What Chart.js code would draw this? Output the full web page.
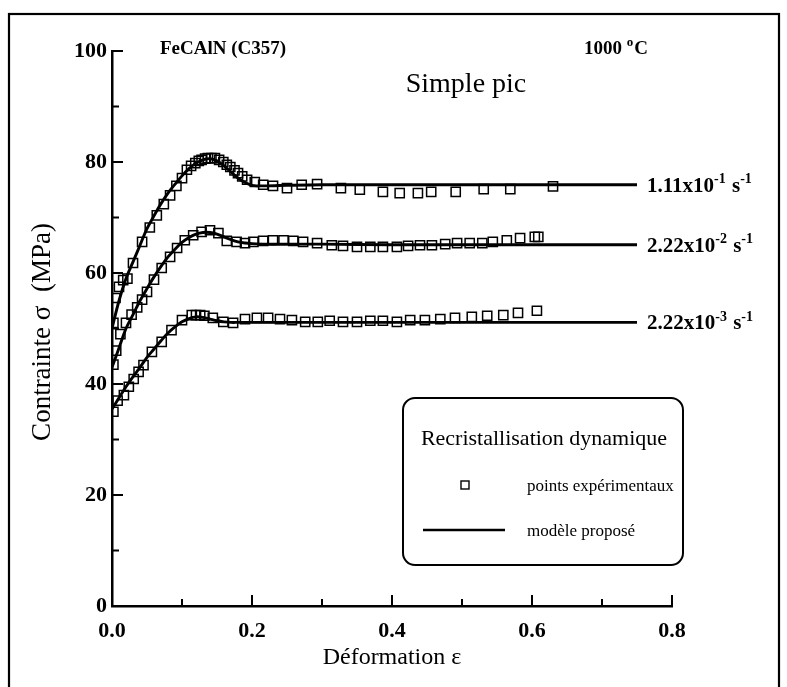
<!DOCTYPE html>
<html>
<head>
<meta charset="utf-8">
<script src="https://cdn.jsdelivr.net/npm/chart.js@4.4.1/dist/chart.umd.min.js"></script>
<style>
  html, body { margin: 0; padding: 0; background: #fff; }
  #wrap { width: 787px; height: 687px; position: relative; }
</style>
</head>
<body>
<div id="wrap"><canvas id="c"></canvas></div>
<script>
// strain grid for the model curves
const modelStrain = [0, 0.01, 0.02, 0.03, 0.04, 0.05, 0.06, 0.07, 0.08, 0.09, 0.10, 0.11, 0.12, 0.13, 0.14,
  0.15, 0.16, 0.17, 0.18, 0.19, 0.20, 0.22, 0.25, 0.30, 0.40, 0.50, 0.60, 0.75];

// model curves (MPa)
const model1 = [50, 55, 59, 62, 65, 68, 70.3, 72.5, 74.4, 76, 77.5, 78.8, 79.8, 80.4, 80.6,
  80.2, 79.3, 78.2, 77.1, 76.3, 75.8, 75.7, 75.8, 75.9, 75.9, 75.9, 75.9, 75.9];
const model2 = [43, 46.5, 50, 52.5, 55, 57.2, 59.3, 61.2, 62.9, 64.3, 65.5, 66.4, 67.0, 67.3, 67.3,
  67.0, 66.5, 66.0, 65.6, 65.4, 65.3, 65.2, 65.2, 65.2, 65.1, 65.1, 65.1, 65.1];
const model3 = [35.5, 37.5, 39.5, 41.3, 43, 44.8, 46.3, 47.8, 49.2, 50.3, 51.2, 51.8, 52.1, 52.0, 51.7,
  51.4, 51.2, 51.1, 51.1, 51.1, 51.1, 51.1, 51.1, 51.1, 51.1, 51.1, 51.1, 51.1];

// experimental points, 1.11e-1 s-1
const exp1Strain = [0.002, 0.005, 0.01, 0.016, 0.022, 0.03, 0.043, 0.054, 0.064, 0.074, 0.083, 0.092, 0.1,
  0.107, 0.113, 0.119, 0.124, 0.128, 0.133, 0.137, 0.142, 0.147, 0.153, 0.159, 0.164, 0.169, 0.175, 0.18,
  0.186, 0.193, 0.204, 0.216, 0.23, 0.25, 0.271, 0.293, 0.327, 0.354, 0.387, 0.411, 0.437, 0.456, 0.491,
  0.531, 0.569, 0.63];
const exp1Stress = [51, 55.5, 57.5, 58.7, 59, 61.8, 65.6, 68.2, 70.4, 72.4, 74, 75.7, 77.1,
  78.6, 79.3, 79.8, 80.2, 80.4, 80.6, 80.7, 80.7, 80.7, 80.4, 80, 79.5, 79.1, 78.5, 78,
  77.4, 76.8, 76.4, 75.9, 75.7, 75.3, 75.9, 76.0, 75.3, 75, 74.6, 74.4, 74.4, 74.6, 74.6,
  75.1, 75.1, 75.6];

// experimental points, 2.22e-2 s-1
const exp2Strain = [0.002, 0.006, 0.012, 0.02, 0.028, 0.036, 0.043, 0.05, 0.06, 0.071, 0.083, 0.093, 0.104,
  0.116, 0.128, 0.14, 0.152, 0.164, 0.178, 0.19, 0.202, 0.216, 0.23, 0.245, 0.259, 0.273, 0.293, 0.314,
  0.33, 0.35, 0.369, 0.387, 0.407, 0.423, 0.44, 0.457, 0.476, 0.493, 0.511, 0.529, 0.544, 0.564, 0.583,
  0.604, 0.609];
const exp2Stress = [43.5, 46, 49, 51, 52.5, 53.8, 55.2, 56.6, 58.8, 60.9, 62.9, 64.5, 65.9,
  66.8, 67.4, 67.7, 67.2, 65.8, 65.6, 65.4, 65.6, 65.8, 65.9, 65.9, 65.8, 65.6, 65.4, 65.0,
  64.9, 64.7, 64.7, 64.7, 64.7, 64.9, 65.0, 65.0, 65.2, 65.4, 65.4, 65.4, 65.6, 65.9, 66.3,
  66.5, 66.5];

// experimental points, 2.22e-3 s-1
const exp3Strain = [0.002, 0.008, 0.017, 0.024, 0.031, 0.038, 0.045, 0.057, 0.071, 0.085, 0.1, 0.114, 0.12,
  0.126, 0.132, 0.144, 0.159, 0.173, 0.19, 0.207, 0.223, 0.24, 0.257, 0.276, 0.294, 0.311, 0.33, 0.35,
  0.369, 0.387, 0.407, 0.426, 0.447, 0.469, 0.49, 0.514, 0.536, 0.559, 0.58, 0.607];
const exp3Stress = [35, 37, 38, 39.5, 40.9, 42.2, 43.4, 45.8, 47.6, 49.7, 51.5, 52.4, 52.4,
  52.4, 52.3, 51.9, 51.2, 51.0, 51.7, 51.9, 51.9, 51.7, 51.5, 51.2, 51.2, 51.4, 51.2, 51.2,
  51.4, 51.4, 51.2, 51.5, 51.5, 51.7, 51.9, 52.1, 52.3, 52.4, 52.8, 53.2];

// axis ticks
const xTicks = [0, 0.2, 0.4, 0.6, 0.8];
const xMinorTicks = [0.1, 0.3, 0.5, 0.7];
const yTicks = [0, 20, 40, 60, 80, 100];
const yMinorTicks = [10, 30, 50, 70, 90];

// rate labels placed at end of each model curve
const rateLabels = [
  { stress: model1[model1.length - 1], base: '1.11x10', exp: '-1' },
  { stress: model2[model2.length - 1], base: '2.22x10', exp: '-2' },
  { stress: model3[model3.length - 1], base: '2.22x10', exp: '-3' },
];

const SERIF = '"Liberation Serif", "Times New Roman", serif';

const pts = (xs, ys) => xs.map((x, i) => ({ x, y: ys[i] }));

function lineSet(ys) {
  return {
    data: pts(modelStrain, ys),
    showLine: true,
    borderColor: '#000',
    borderWidth: 2.9,
    pointRadius: 0,
    tension: 0.35,
    fill: false,
    order: 2,
  };
}

function pointSet(xs, ys) {
  return {
    data: pts(xs, ys),
    showLine: false,
    pointStyle: 'rect',
    pointRadius: 6.5,
    pointBorderWidth: 1.5,
    pointBorderColor: '#000',
    pointBackgroundColor: 'rgba(0,0,0,0)',
    order: 1,
  };
}

// text with raised parts
function drawRich(ctx, parts, x, y, size, bold) {
  let cx = x;
  parts.forEach(p => {
    const s = p.sup ? Math.round(size * 0.68) : size;
    ctx.font = `${bold ? 'bold ' : ''}${s}px ${SERIF}`;
    ctx.fillText(p.t, cx, p.sup ? y - size * 0.42 : y);
    cx += ctx.measureText(p.t).width + (p.sup ? 1 : 0);
  });
}

const decorPlugin = {
  id: 'decor',
  afterDatasetsDraw(chart) {
    const { ctx, scales: { x, y } } = chart;
    const x0 = x.getPixelForValue(0);
    const y0 = y.getPixelForValue(0);
    ctx.save();
    ctx.strokeStyle = '#000';
    ctx.fillStyle = '#000';
    ctx.lineCap = 'butt';

    // inward ticks
    ctx.lineWidth = 2;
    ctx.beginPath();
    yTicks.concat(yMinorTicks).forEach(v => {
      const py = y.getPixelForValue(v);
      const len = yTicks.includes(v) ? 11 : 7;
      ctx.moveTo(x0, py);
      ctx.lineTo(x0 + len, py);
    });
    xTicks.concat(xMinorTicks).forEach(v => {
      const px = x.getPixelForValue(v);
      const len = xTicks.includes(v) ? 11 : 7;
      ctx.moveTo(px, y0);
      ctx.lineTo(px, y0 - len);
    });
    ctx.stroke();

    // outer frame
    ctx.lineWidth = 2.2;
    ctx.strokeRect(9, 14, 770, 690);

    // titles
    ctx.textBaseline = 'alphabetic';
    ctx.textAlign = 'left';
    ctx.font = `bold 19px ${SERIF}`;
    ctx.fillText('FeCAlN (C357)', 160, 54);
    drawRich(ctx, [{ t: '1000 ' }, { t: 'o', sup: true }, { t: 'C' }], 584, 54, 19, true);
    ctx.font = `28px ${SERIF}`;
    ctx.textAlign = 'center';
    ctx.fillText('Simple pic', 466, 92);

    // axis titles
    ctx.font = `24px ${SERIF}`;
    ctx.fillText('Déformation ε', 392, 664);
    ctx.save();
    ctx.translate(50, 332);
    ctx.rotate(-Math.PI / 2);
    ctx.font = `27px ${SERIF}`;
    ctx.fillText('Contrainte σ  (MPa)', 0, 0);
    ctx.restore();

    // strain-rate labels
    ctx.textAlign = 'left';
    rateLabels.forEach(r => {
      const py = y.getPixelForValue(r.stress) + 7;
      drawRich(ctx, [{ t: r.base }, { t: r.exp, sup: true }, { t: ' s' }, { t: '-1', sup: true }], 647, py, 21, true);
    });

    // legend box
    const bx = 403, by = 398, bw = 280, bh = 167, rad = 12;
    ctx.lineWidth = 2;
    ctx.beginPath();
    ctx.roundRect(bx, by, bw, bh, rad);
    ctx.stroke();
    ctx.font = `22px ${SERIF}`;
    ctx.textAlign = 'center';
    ctx.fillText('Recristallisation dynamique', bx + bw / 2 + 1, 445);
    ctx.textAlign = 'left';
    ctx.font = `17px ${SERIF}`;
    ctx.fillText('points expérimentaux', 527, 491);
    ctx.fillText('modèle proposé', 527, 536);
    ctx.lineWidth = 1.4;
    ctx.strokeRect(461, 481, 8, 8);
    ctx.lineWidth = 2.6;
    ctx.beginPath();
    ctx.moveTo(423, 530);
    ctx.lineTo(505, 530);
    ctx.stroke();

    ctx.restore();
  },
};

new Chart(document.getElementById('c'), {
  type: 'scatter',
  data: {
    datasets: [
      lineSet(model1), lineSet(model2), lineSet(model3),
      pointSet(exp1Strain, exp1Stress), pointSet(exp2Strain, exp2Stress), pointSet(exp3Strain, exp3Stress),
    ],
  },
  options: {
    responsive: true,
    maintainAspectRatio: false,
    animation: false,
    events: [],
    layout: { padding: { left: 0, right: 115, top: 51, bottom: 0 } },
    plugins: { legend: { display: false }, tooltip: { enabled: false } },
    scales: {
      x: {
        type: 'linear',
        min: 0,
        max: 0.8,
        afterFit: s => { s.height = 81; },
        afterBuildTicks: s => { s.ticks = xTicks.map(v => ({ value: v })); },
        grid: { display: true, drawOnChartArea: false, drawTicks: false },
        border: { display: true, color: '#000', width: 2.5 },
        ticks: {
          color: '#000',
          padding: 12,
          font: { family: SERIF, size: 22, weight: 'bold' },
          callback: v => v.toFixed(1),
        },
      },
      y: {
        type: 'linear',
        min: 0,
        max: 100,
        afterFit: s => { s.width = 112; },
        afterBuildTicks: s => { s.ticks = yTicks.map(v => ({ value: v })); },
        grid: { display: true, drawOnChartArea: false, drawTicks: false },
        border: { display: true, color: '#000', width: 2.5 },
        ticks: {
          color: '#000',
          padding: 5,
          font: { family: SERIF, size: 22, weight: 'bold' },
          callback: v => String(v),
        },
      },
    },
  },
  plugins: [decorPlugin],
});
</script>
</body>
</html>
